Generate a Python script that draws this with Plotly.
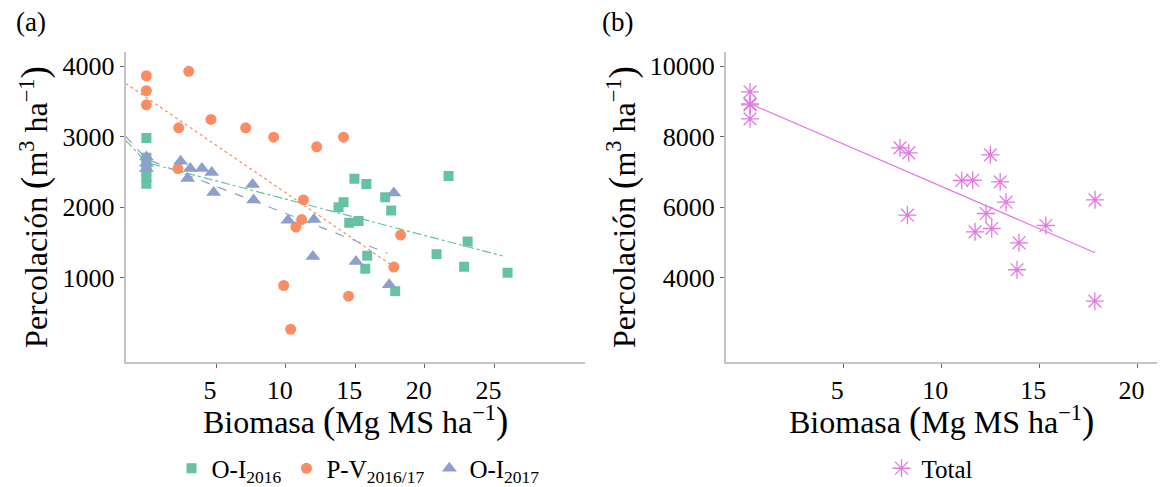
import plotly.graph_objects as go

# ---------------- data: panel (a) ----------------
oi16_x = [0, 0, 0, 0, 0, 0, 14.94, 15.8, 14.16, 13.8, 14.57, 15.24, 21.7, 17.15, 17.58,
          15.86, 15.72, 17.87, 20.84, 23.07, 22.82, 25.94]
oi16_y = [2980, 2700, 2600, 2500, 2420, 2330, 2400, 2327, 2067, 1996, 1778, 1801, 2441, 2138, 1949,
          1309, 1124, 805, 1331, 1512, 1152, 1067]

pv_x = [0, 0, 0, 3.04, 2.32, 4.64, 7.13, 9.14, 12.23, 14.16, 2.27, 11.28, 11.15, 10.74,
        18.26, 17.77, 9.86, 14.52, 10.36]
pv_y = [3863, 3650, 3451, 3926, 3124, 3243, 3124, 2991, 2854, 2991, 2546, 2100, 1821, 1716,
        1602, 1147, 886, 734, 265]

oi17_x = [0, 0, 0, 2.46, 3.15, 2.96, 3.99, 4.69, 4.83, 7.63, 7.7, 10.17, 12.03, 17.77,
          11.96, 15.05, 17.44]
oi17_y = [2710, 2620, 2546, 2650, 2546, 2404, 2546, 2489, 2205, 2319, 2100, 1811, 1823, 2199,
          1299, 1228, 896]

# trend lines
oi16_fit_x = [-1.5, 0, 25.6]
oi16_fit_y = [2950, 2630, 1305]
pv_fit_x = [-1.5, 17.5]
pv_fit_y = [3755, 1190]
oi17_fit_x = [-1.5, 0, 17.3]
oi17_fit_y = [3005, 2680, 1345]

# ---------------- data: panel (b) ----------------
total_x = [0.24, 0.24, 0.24, 0.24, 7.89, 8.34, 8.27, 12.5, 11.04, 11.6, 13.0, 13.3, 12.28,
           11.72, 12.57, 13.96, 13.86, 15.33, 17.84, 17.83]
total_y = [9268, 8928, 8900, 8502, 7679, 7537, 5767, 7481, 6752, 6760, 6715, 6136, 5816,
           5296, 5390, 4984, 4218, 5475, 6204, 3328]
total_fit_x = [0.24, 17.84]
total_fit_y = [8930, 4700]

a_xticks = [5, 10, 15, 20, 25]
a_yticks = [1000, 2000, 3000, 4000]
b_xticks = [5, 10, 15, 20]
b_yticks = [4000, 6000, 8000, 10000]

GREEN = "#66c2a5"
ORANGE = "#fc8d62"
BLUE = "#8da0cb"
VIOLET = "#e37ae3"
FONT = "'Liberation Serif', 'Times New Roman', serif"

fig = go.Figure()

# trend lines panel (a)
fig.add_trace(go.Scatter(x=oi16_fit_x, y=oi16_fit_y, mode="lines", showlegend=False,
                         line=dict(color=GREEN, width=1.2, dash="dashdot"), xaxis="x", yaxis="y"))
fig.add_trace(go.Scatter(x=pv_fit_x, y=pv_fit_y, mode="lines", showlegend=False,
                         line=dict(color=ORANGE, width=1.2, dash="dot"), xaxis="x", yaxis="y"))
fig.add_trace(go.Scatter(x=oi17_fit_x, y=oi17_fit_y, mode="lines", showlegend=False,
                         line=dict(color=BLUE, width=1.2, dash="dash"), xaxis="x", yaxis="y"))

# points panel (a)
fig.add_trace(go.Scatter(x=oi16_x, y=oi16_y, mode="markers", name="O-I<sub>2016</sub>",
                         marker=dict(symbol="square", size=10, color=GREEN),
                         xaxis="x", yaxis="y", legend="legend"))
fig.add_trace(go.Scatter(x=pv_x, y=pv_y, mode="markers", name="P-V<sub>2016/17</sub>",
                         marker=dict(symbol="circle", size=11, color=ORANGE),
                         xaxis="x", yaxis="y", legend="legend"))
fig.add_trace(go.Scatter(x=oi17_x, y=oi17_y, mode="markers", name="O-I<sub>2017</sub>",
                         marker=dict(symbol="triangle-up", size=13, color=BLUE),
                         xaxis="x", yaxis="y", legend="legend"))

# panel (b)
fig.add_trace(go.Scatter(x=total_fit_x, y=total_fit_y, mode="lines", showlegend=False,
                         line=dict(color=VIOLET, width=1.2), xaxis="x2", yaxis="y2"))
fig.add_trace(go.Scatter(x=total_x, y=total_y, mode="markers", name="Total",
                         marker=dict(symbol="asterisk-open", size=15, color=VIOLET,
                                     line=dict(color=VIOLET, width=1.3)),
                         xaxis="x2", yaxis="y2", legend="legend2"))

big = lambda s: f'<span style="font-size:37px">{s}</span>'
xtitle = f"Biomasa {big('(')}Mg MS ha<sup>−1</sup>{big(')')}"
ytitle = f"Percolación {big('(')}m<sup>3</sup> ha<sup>−1</sup>{big(')')}"

axis_common = dict(showgrid=False, zeroline=False, showline=True, linecolor="#c4c4c4",
                   linewidth=1.5, ticks="outside", ticklen=4, tickcolor="#666666",
                   tickwidth=1, tickformat="d", automargin=True,
                   tickfont=dict(family=FONT, size=26, color="black"))

ydom = [1 - 362 / 487, 1 - 52 / 487]
xa_dom = [125.5 / 1174, 585 / 1174]
xb_dom = [725.7 / 1174, 1157 / 1174]

fig.update_layout(
    width=1174, height=487,
    margin=dict(l=0, r=0, t=0, b=0, autoexpand=False),
    paper_bgcolor="white", plot_bgcolor="white",
    font=dict(family=FONT, color="black"),
    xaxis=dict(axis_common, domain=xa_dom, range=[-1.5, 31.5],
               tickvals=a_xticks, ticklabelshift=-6, anchor="y"),
    yaxis=dict(axis_common, domain=ydom, range=[-200, 4200], tickvals=a_yticks, anchor="x",
               title=dict(text=ytitle, font=dict(family=FONT, size=32), standoff=5)),
    xaxis2=dict(axis_common, domain=xb_dom, range=[-1, 21],
                tickvals=b_xticks, ticklabelshift=-6, anchor="y2"),
    yaxis2=dict(axis_common, domain=ydom, range=[1600, 10400], tickvals=b_yticks, anchor="x2",
                title=dict(text=ytitle, font=dict(family=FONT, size=32), standoff=5)),
    legend=dict(orientation="h", x=358 / 1174, xanchor="center", y=0.038, yanchor="middle",
                font=dict(family=FONT, size=25), bgcolor="rgba(0,0,0,0)",
                itemwidth=30, tracegroupgap=0),
    legend2=dict(orientation="h", x=930 / 1174, xanchor="center", y=0.038, yanchor="middle",
                 font=dict(family=FONT, size=25), bgcolor="rgba(0,0,0,0)", itemwidth=30),
    annotations=[
        dict(text="(a)", x=14 / 1174, y=1 - 22 / 487, xref="paper", yref="paper",
             xanchor="left", yanchor="middle", showarrow=False,
             font=dict(family=FONT, size=27)),
        dict(text="(b)", x=600 / 1174, y=1 - 22 / 487, xref="paper", yref="paper",
             xanchor="left", yanchor="middle", showarrow=False,
             font=dict(family=FONT, size=27)),
        # x-axis titles
        dict(text=xtitle, x=sum(xa_dom) / 2, y=1 - 421 / 487, xref="paper", yref="paper",
             xanchor="center", yanchor="middle", showarrow=False,
             font=dict(family=FONT, size=32)),
        dict(text=xtitle, x=sum(xb_dom) / 2, y=1 - 421 / 487, xref="paper", yref="paper",
             xanchor="center", yanchor="middle", showarrow=False,
             font=dict(family=FONT, size=32)),
    ],
)

fig.write_html("out.html")
